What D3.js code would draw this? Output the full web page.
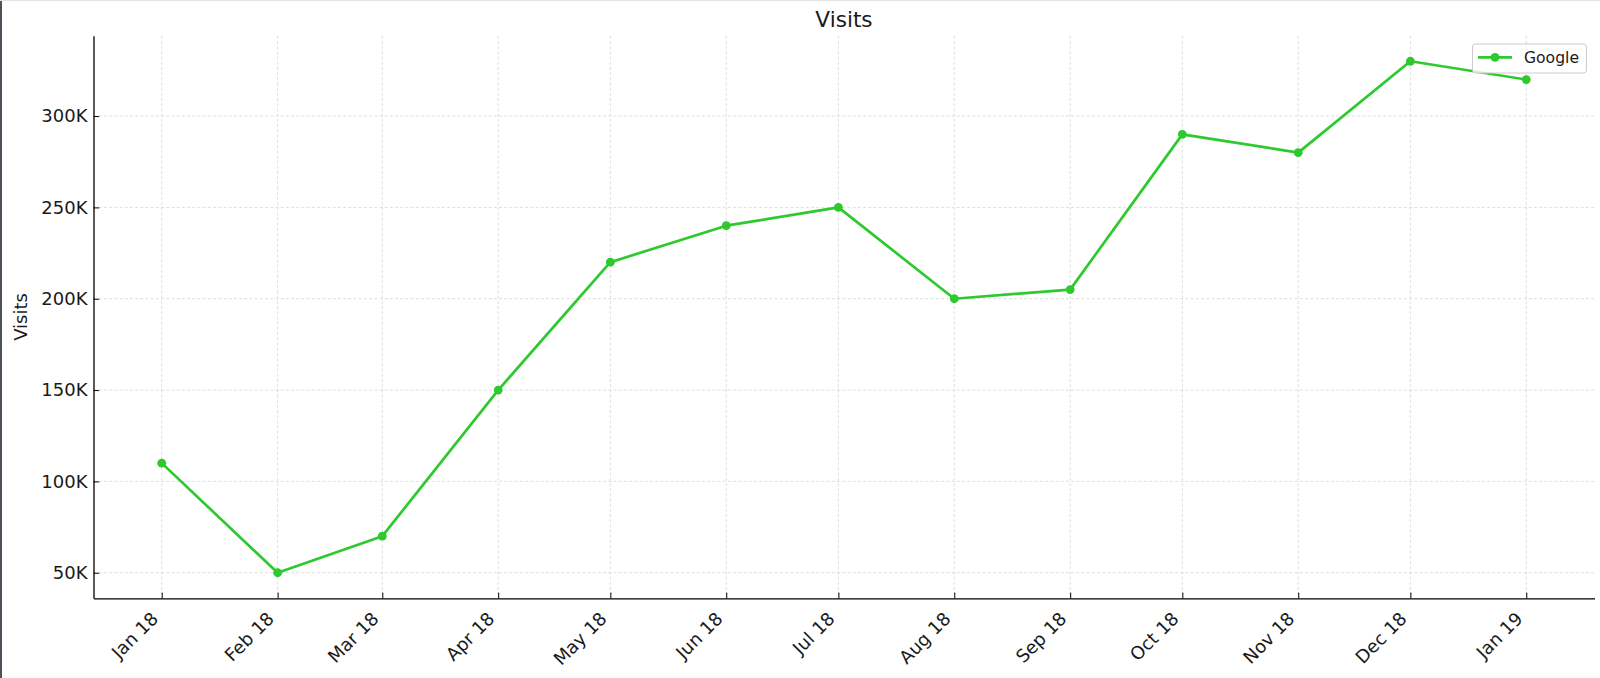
<!DOCTYPE html>
<html>
<head>
<meta charset="utf-8">
<script src="https://cdn.jsdelivr.net/npm/d3@7"></script>
<style>
  html, body { margin: 0; padding: 0; background: #ffffff; }
  svg { display: block; font-family: "DejaVu Sans", sans-serif; }
</style>
</head>
<body>
<svg id="chart" width="1600" height="678"></svg>
<script>
// ---- data ----
const months = ["2018-01-01","2018-02-01","2018-03-01","2018-04-01","2018-05-01","2018-06-01",
                "2018-07-01","2018-08-01","2018-09-01","2018-10-01","2018-11-01","2018-12-01","2019-01-01"];
const visits = [110000, 50000, 70000, 150000, 220000, 240000, 250000, 200000, 205000, 290000, 280000, 330000, 320000];
const yTicks = [50000, 100000, 150000, 200000, 250000, 300000];
const seriesName = "Google";
const chartTitle = "Visits";
const yLabel = "Visits";

// ---- layout ----
const W = 1600, H = 678;
const margin = {left: 93.5, right: 5.5, top: 35.7, bottom: 79.7};
const color = "#2ec92e";

const svg = d3.select("#chart");
const parse = d3.timeParse("%Y-%m-%d");
const dates = months.map(parse);
const data = dates.map((d, i) => ({date: d, value: visits[i]}));

// 5% padding like matplotlib
const xExt = d3.extent(dates).map(d => +d);
const xPad = (xExt[1] - xExt[0]) * 0.05;
const x = d3.scaleTime()
  .domain([new Date(xExt[0] - xPad), new Date(xExt[1] + xPad)])
  .range([margin.left, W - margin.right]);
const yExt = d3.extent(visits);
const yPad = (yExt[1] - yExt[0]) * 0.05;
const y = d3.scaleLinear()
  .domain([yExt[0] - yPad, yExt[1] + yPad])
  .range([H - margin.bottom, margin.top]);

// frame edge (screenshot border)
svg.append("rect").attr("x", 0).attr("y", 0).attr("width", W).attr("height", H).attr("fill", "#ffffff");
svg.append("rect").attr("x", 0).attr("y", 0).attr("width", 2).attr("height", H).attr("fill", "#4d525a");
svg.append("rect").attr("x", 0).attr("y", 0).attr("width", W).attr("height", 1).attr("fill", "#e4e4e4");

// grid
const grid = svg.append("g").attr("stroke", "#d6d6d6").attr("stroke-width", 0.8).attr("stroke-dasharray", "3,2.2");
grid.selectAll("line.v").data(dates).join("line")
  .attr("x1", d => x(d)).attr("x2", d => x(d))
  .attr("y1", margin.top).attr("y2", H - margin.bottom);
grid.selectAll("line.h").data(yTicks).join("line")
  .attr("x1", margin.left).attr("x2", W - margin.right)
  .attr("y1", d => y(d)).attr("y2", d => y(d));

// axes
const fmtX = d3.timeFormat("%b %y");
const xAxis = d3.axisBottom(x).tickValues(dates).tickFormat(fmtX)
  .tickSizeInner(-5.7).tickSizeOuter(0).tickPadding(6);
const gx = svg.append("g").attr("transform", `translate(0,${H - margin.bottom})`).call(xAxis);
gx.selectAll("text")
  .attr("x", -3).attr("y", 21.5).attr("dy", null)
  .attr("text-anchor", "end")
  .attr("transform", "rotate(-45,-3,21.5)");

const yAxis = d3.axisLeft(y).tickValues(yTicks).tickFormat(d => (d / 1000) + "K")
  .tickSizeInner(-5.7).tickSizeOuter(0).tickPadding(6);
const gy = svg.append("g").attr("transform", `translate(${margin.left},0)`).call(yAxis);

[gx, gy].forEach(g => {
  g.select(".domain").attr("stroke", "#000").attr("stroke-width", 1.3);
  g.selectAll(".tick line").attr("stroke", "#000").attr("stroke-width", 1);
  g.selectAll("text").attr("font-size", 18).attr("fill", "#1a1a1a")
    .attr("font-family", "DejaVu Sans, sans-serif");
});

// line + markers
const line = d3.line().x(d => x(d.date)).y(d => y(d.value));
svg.append("path").datum(data)
  .attr("fill", "none").attr("stroke", color).attr("stroke-width", 2.7)
  .attr("stroke-linejoin", "round").attr("d", line);
svg.append("g").selectAll("circle").data(data).join("circle")
  .attr("cx", d => x(d.date)).attr("cy", d => y(d.value)).attr("r", 4.4)
  .attr("fill", color);

// title
svg.append("text").attr("x", (margin.left + W - margin.right) / 2).attr("y", 26.5)
  .attr("text-anchor", "middle").attr("font-size", 21.6).attr("fill", "#1a1a1a").text(chartTitle);

// y label
svg.append("text").attr("transform", `translate(26.5,${(margin.top + H - margin.bottom) / 2}) rotate(-90)`)
  .attr("text-anchor", "middle").attr("font-size", 18).attr("fill", "#1a1a1a").text(yLabel);

// legend
const lg = svg.append("g").attr("transform", "translate(1472.5,44)");
lg.append("rect").attr("width", 114).attr("height", 29).attr("rx", 3)
  .attr("fill", "#ffffff").attr("fill-opacity", 0.8).attr("stroke", "#cccccc").attr("stroke-width", 1);
lg.append("line").attr("x1", 5.5).attr("x2", 39.5).attr("y1", 13.3).attr("y2", 13.3)
  .attr("stroke", color).attr("stroke-width", 2.7);
lg.append("circle").attr("cx", 22.5).attr("cy", 13.3).attr("r", 4.4).attr("fill", color);
lg.append("text").attr("x", 51.5).attr("y", 19).attr("font-size", 15.6).attr("fill", "#1a1a1a").text(seriesName);
</script>
</body>
</html>
